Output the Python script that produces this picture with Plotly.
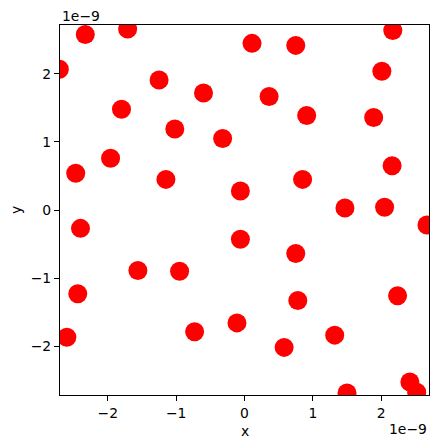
import plotly.graph_objects as go

# values in units of 1e-9
x_vals = [-2.71, -2.33, -1.71, -1.80, -1.25, -0.60, 0.11, 0.75, 2.17, 2.01,
          0.36, 0.91, 1.89, -1.02, -0.32, -1.96, -2.47, -1.15, 0.85, 2.16,
          -0.06, 1.47, 2.05, 2.67, -2.40, -0.06, -1.56, -0.95, 0.75, -2.44,
          0.78, 2.24, -2.60, -0.73, -0.11, 0.58, 1.32, 1.50, 2.42, 2.52]
y_vals = [2.07, 2.58, 2.66, 1.48, 1.91, 1.72, 2.45, 2.42, 2.64, 2.04,
          1.67, 1.39, 1.36, 1.19, 1.05, 0.76, 0.54, 0.45, 0.45, 0.65,
          0.28, 0.03, 0.04, -0.22, -0.27, -0.43, -0.89, -0.90, -0.64, -1.23,
          -1.33, -1.26, -1.87, -1.79, -1.66, -2.02, -1.84, -2.69, -2.53, -2.68]
scale = 1e-9
tick_vals = [-2, -1, 0, 1, 2]
tick_text = ["\u22122", "\u22121", "0", "1", "2"]

x = [v * scale for v in x_vals]
y = [v * scale for v in y_vals]

fig = go.Figure(go.Scatter(
    x=x, y=y, mode="markers",
    marker=dict(color="red", size=19, line=dict(width=0)),
    showlegend=False,
))

font = dict(family="DejaVu Sans", size=13.9, color="black")
axis_common = dict(
    showgrid=False, zeroline=False, showline=True, linecolor="black", linewidth=1.1,
    mirror=True, ticks="outside", ticklen=5, tickwidth=1.1, tickcolor="black",
    tickfont=font,
    tickvals=[t * scale for t in tick_vals], ticktext=tick_text,
)
fig.update_xaxes(range=[-2.7 * scale, 2.7 * scale], **axis_common)
fig.update_yaxes(range=[-2.72 * scale, 2.72 * scale], **axis_common)

fig.update_layout(
    width=439, height=448,
    margin=dict(l=60, r=10, t=25, b=53),
    paper_bgcolor="white", plot_bgcolor="white",
    font=font,
    annotations=[
        dict(text="x", xref="paper", yref="paper", x=0.5, y=0, yshift=-36,
             showarrow=False, xanchor="center", yanchor="middle", font=font),
        dict(text="y", xref="paper", yref="paper", x=0, y=0.5, xshift=-44,
             showarrow=False, xanchor="center", yanchor="middle", textangle=-90, font=font),
        dict(text="1e\u22129", xref="paper", yref="paper", x=0, y=1, yshift=9,
             showarrow=False, xanchor="left", yanchor="middle", font=font),
        dict(text="1e\u22129", xref="paper", yref="paper", x=1, y=0, yshift=-34,
             showarrow=False, xanchor="right", yanchor="middle", font=font),
    ],
)

fig.write_html(
    "out.html",
    config={"displayModeBar": False},
    post_script="document.body.style.margin='0';document.body.style.padding='0';",
)
